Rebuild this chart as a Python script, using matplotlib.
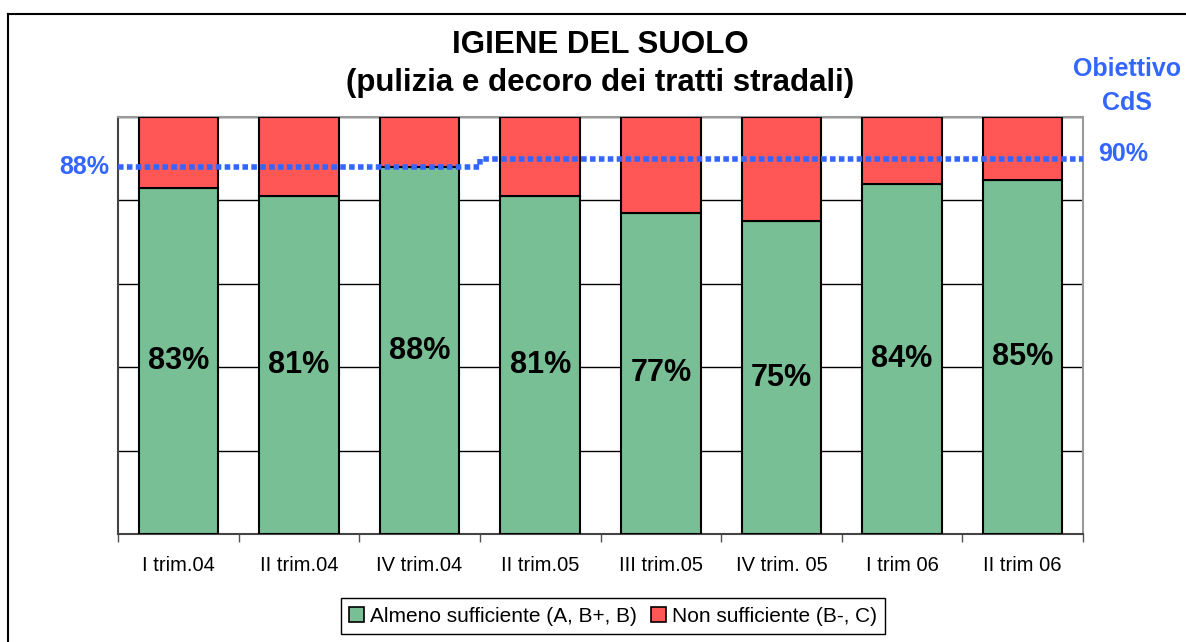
import numpy as np
import matplotlib
matplotlib.use("Agg")
import matplotlib.pyplot as plt
from matplotlib.lines import Line2D
from matplotlib.patches import Patch

plt.rcParams['font.family'] = ['Liberation Sans', 'DejaVu Sans']

periods = ['I trim.04', 'II trim.04', 'IV trim.04', 'II trim.05',
           'III trim.05', 'IV trim. 05', 'I trim 06', 'II trim 06']
sufficiente = [83, 81, 88, 81, 77, 75, 84, 85]
non_sufficiente = [100 - v for v in sufficiente]
obiettivo = [88, 88, 88, 90, 90, 90, 90, 90]

green = '#78bf96'
red = '#ff5656'
blue = '#3366ff'

fig = plt.figure(figsize=(11.86, 6.42), dpi=100)
ax = fig.add_axes([118 / 1186, 1 - 534 / 642, (1083 - 118) / 1186, (534 - 117) / 642])

x = np.arange(len(periods))
ax.bar(x, sufficiente, width=0.66, color=green, edgecolor='black', linewidth=1.5, zorder=3,
       label='Almeno sufficiente (A, B+, B)')
ax.bar(x, non_sufficiente, bottom=sufficiente, width=0.66, color=red, edgecolor='black',
       linewidth=1.5, zorder=3, label='Non sufficiente (B-, C)')

for i, v in enumerate(sufficiente):
    ax.text(x[i], v / 2, f'{v}%', ha='center', va='center', fontsize=22,
            fontweight='bold', zorder=5)

# target line (obiettivo CdS)
xs = np.r_[-0.5, x, 7.5]
ys = np.r_[obiettivo[0], obiettivo, obiettivo[-1]]
ax.plot(xs, ys, drawstyle='steps-mid', color=blue, linewidth=4,
        linestyle=(0, (1.0, 0.6)), dash_capstyle='butt', zorder=4)

ax.text(-0.57, obiettivo[0], f'{obiettivo[0]}%', ha='right', va='center', color=blue,
        fontsize=18, fontweight='bold', clip_on=False)
fig.text(1123 / 1186, 1 - 154 / 642, f'{obiettivo[-1]}%', ha='center', va='center',
         color=blue, fontsize=18, fontweight='bold')
fig.text(1127 / 1186, 1 - 86 / 642, 'Obiettivo\nCdS', ha='center', va='center',
         color=blue, fontsize=18, fontweight='bold', linespacing=1.5)

ax.set_xlim(-0.5, 7.5)
ax.set_ylim(0, 100)
ax.set_yticks([0, 20, 40, 60, 80, 100])
ax.set_yticklabels([])
ax.tick_params(axis='y', length=0)
ax.yaxis.grid(True, color='black', linewidth=1.0, zorder=0)
ax.set_axisbelow(True)

ax.set_xticks(np.arange(-0.5, 8, 1))
ax.set_xticklabels([])
ax.tick_params(axis='x', which='major', length=6, width=1.0, color='#555555', direction='out')
ax.set_xticks(x, minor=True)
ax.set_xticklabels(periods, minor=True, fontsize=14.5)
ax.tick_params(axis='x', which='minor', length=0, pad=16)

for side in ['top', 'right']:
    ax.spines[side].set_color('#9a9a9a')
    ax.spines[side].set_linewidth(1.5)
ax.spines['left'].set_color('#444444')
ax.spines['left'].set_linewidth(1.5)
ax.spines['bottom'].set_color('#444444')
ax.spines['bottom'].set_linewidth(1.5)

fig.text(600 / 1186, 1 - 64 / 642, 'IGIENE DEL SUOLO\n(pulizia e decoro dei tratti stradali)',
         ha='center', va='center', fontsize=22.5, fontweight='bold', linespacing=1.35)

handles = [Patch(facecolor=green, edgecolor='black', linewidth=1.2),
           Patch(facecolor=red, edgecolor='black', linewidth=1.2)]
leg = fig.legend(handles, ['Almeno sufficiente (A, B+, B)', 'Non sufficiente (B-, C)'],
                 loc='center', bbox_to_anchor=(613 / 1186, 1 - 616 / 642), ncol=2,
                 fontsize=15, handlelength=0.7, handleheight=0.7, handletextpad=0.3,
                 columnspacing=0.7, borderpad=0.4, borderaxespad=0, fancybox=False,
                 framealpha=1)
leg.get_frame().set_edgecolor('black')
leg.get_frame().set_linewidth(1.0)

# outer frame (top and left only visible)
fig.add_artist(Line2D([8 / 1186, 1], [1 - 13.5 / 642, 1 - 13.5 / 642], color='black', linewidth=1.5))
fig.add_artist(Line2D([8 / 1186, 8 / 1186], [0, 1 - 13.5 / 642], color='black', linewidth=1.5))

fig.savefig('out.png', dpi=100)
